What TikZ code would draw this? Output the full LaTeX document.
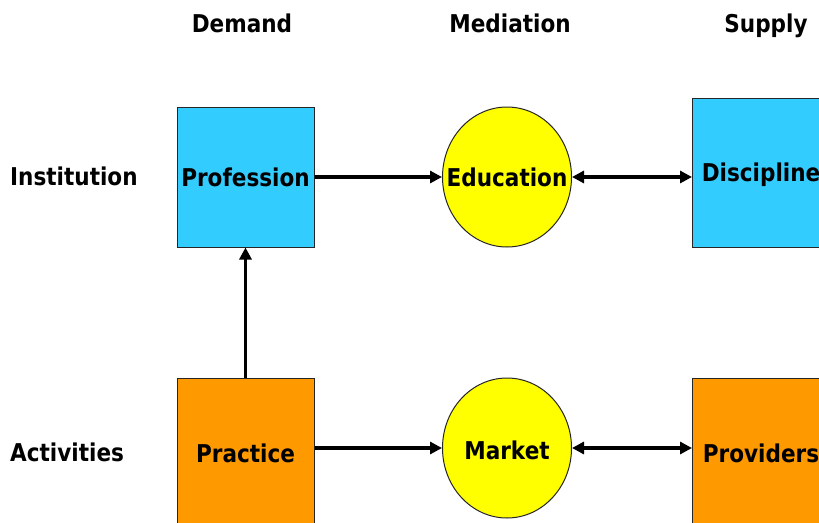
\documentclass[tikz,border=0pt]{standalone}
\usepackage{fontspec}
\newfontfamily\lab[FakeStretch=0.88]{DejaVu Sans}
\usetikzlibrary{arrows.meta,shapes.geometric}
\definecolor{cblue}{HTML}{33CCFF}
\definecolor{corange}{HTML}{FF9900}
\definecolor{cyellow}{HTML}{FFFF00}
\begin{document}
\begin{tikzpicture}[x=1pt,y=1pt,
  txt/.style={font=\lab\bfseries\fontsize{24.5}{28}\selectfont, inner sep=0pt, text height=18pt, text depth=0pt},
  boxnode/.style={draw=black!85, line width=1pt, rectangle, minimum width=137pt, inner sep=0pt, txt},
  ovalnode/.style={draw=black!85, line width=1pt, ellipse, fill=cyellow, minimum width=129pt, minimum height=140pt, inner sep=0pt},
  arr/.style={line width=3.5pt, -{Triangle[length=12pt,width=12pt]}},
  darr/.style={line width=3.5pt, {Triangle[length=12pt,width=12pt]}-{Triangle[length=12pt,width=12pt]}},
  hdr/.style={txt}]
\clip (0,0) rectangle (819,-522);
\fill[white] (0,0) rectangle (819,-522);
% headers
\node[hdr] (hdem) at (242,-23) {Demand};
\node[hdr] (hmed) at (510,-23) {Mediation};
\node[hdr] (hsup) at (766,-23) {Supply};
\node[hdr, anchor=west] (hins) at (10,-176) {Institution};
\node[hdr, anchor=west] (hact) at (10,-452) {Activities};
% boxes
\node[boxnode, fill=cblue, minimum height=140pt] (prof) at (245.5,-177) {Profession};
\node[boxnode, fill=cblue, minimum height=149pt] (disc) at (761,-172.5) {Discipline};
\node[boxnode, fill=corange, minimum height=150pt] (prac) at (245.5,-453) {Practice};
\node[boxnode, fill=corange, minimum height=150pt] (prov) at (761,-453) {Providers};
% ellipses
\node[ovalnode] (edu) at (507,-177) {};
\node[txt] (edut) at (edu.center) {Education};
\node[ovalnode] (mkt) at (507,-448) {};
\node[txt] (mktt) at (507,-450) {Market};
% connectors
\draw[arr] (prof) -- (edu);
\draw[darr] (edu) -- (disc.west |- edu);
\draw[arr] (prac.east |- mkt) -- (mkt);
\draw[darr] (mkt) -- (prov.west |- mkt);
\draw[arr] (prac) -- (prof);
\end{tikzpicture}
\end{document}
